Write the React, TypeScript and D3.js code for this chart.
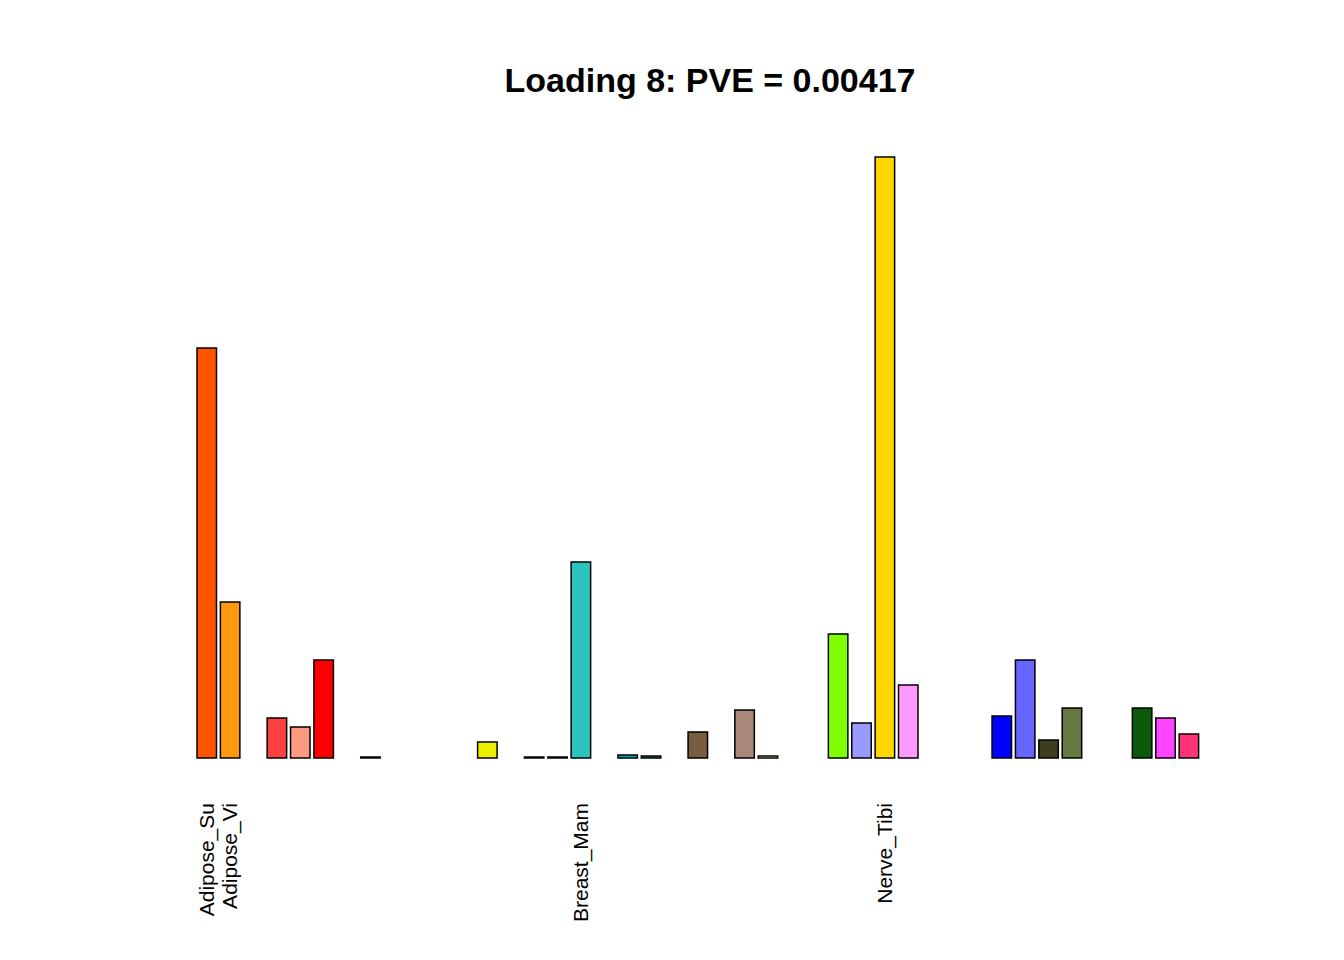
import * as d3 from 'd3'

// bar heights (relative loading values) for 44 tissues
const values = [
  410, 156, 0, 40, 31, 98, 0, 1, 0, 0, 0, 0, 16, 0, 1, 1, 196, 0, 3, 2, 0, 26,
  0, 48, 2, 0, 0, 124, 35, 601, 73, 0, 0, 0, 42, 98, 18, 50, 0, 0, 50, 40, 24, 0,
]
const colors = [
  '#FF5500', '#FF9A0E', '#AAAAAA', '#FF4040', '#FF9A80', '#FF0000', '#FF00BB', '#EE0099',
  '#CC0077', '#AA00FF', '#EEBB55', '#BB8833', '#EEEE00', '#CC66FF', '#9900EE', '#7711CC',
  '#2EC4BE', '#99FF00', '#00AABB', '#009999', '#005577', '#7A5C3E', '#444466', '#A88878',
  '#FFFFAA', '#CC9955', '#996633', '#80FF00', '#9999FF', '#FFD700', '#FF99FF', '#88DDFF',
  '#99DDEE', '#AAEEEE', '#0000FF', '#6666FF', '#3D3D1F', '#66773F', '#DDDDDD', '#00FF55',
  '#0A5A0A', '#FF44FF', '#FF3377', '#777777',
]
const labels: Record<number, string> = {
  0: 'Adipose_Su',
  1: 'Adipose_Vi',
  16: 'Breast_Mam',
  29: 'Nerve_Tibi',
}

export default function App() {
  const left = 197
  const right = 1222
  const baseY = 758
  const n = values.length
  const x = d3
    .scaleBand<number>()
    .domain(d3.range(n))
    .range([left - (0.2 / 1.2) * 0 , right])
    .paddingInner(0.2 / 1.2 * 1.0)
    .paddingOuter(0)
  const y = d3.scaleLinear().domain([0, 601]).range([baseY, 157])

  return (
    <svg width={1344} height={960} style={{ display: 'block', margin: -8 }}>
      <rect width={1344} height={960} fill="white" />
      <text
        x={710}
        y={92}
        textAnchor="middle"
        fontFamily="Liberation Sans, Arial, sans-serif"
        fontWeight="bold"
        fontSize={34}
      >
        Loading 8: PVE = 0.00417
      </text>
      {values.map((v, i) => (
        <rect
          key={i}
          x={x(i)}
          y={y(v)}
          width={x.bandwidth()}
          height={baseY - y(v)}
          fill={colors[i]}
          stroke="black"
          strokeWidth={1.5}
        />
      ))}
      {Object.entries(labels).map(([k, t]) => {
        const cx = (x(+k) ?? 0) + x.bandwidth() / 2
        return (
          <text
            key={k}
            transform={`translate(${cx + 7},803) rotate(-90)`}
            textAnchor="end"
            fontFamily="Liberation Sans, Arial, sans-serif"
            fontSize={21}
          >
            {t}
          </text>
        )
      })}
    </svg>
  )
}
